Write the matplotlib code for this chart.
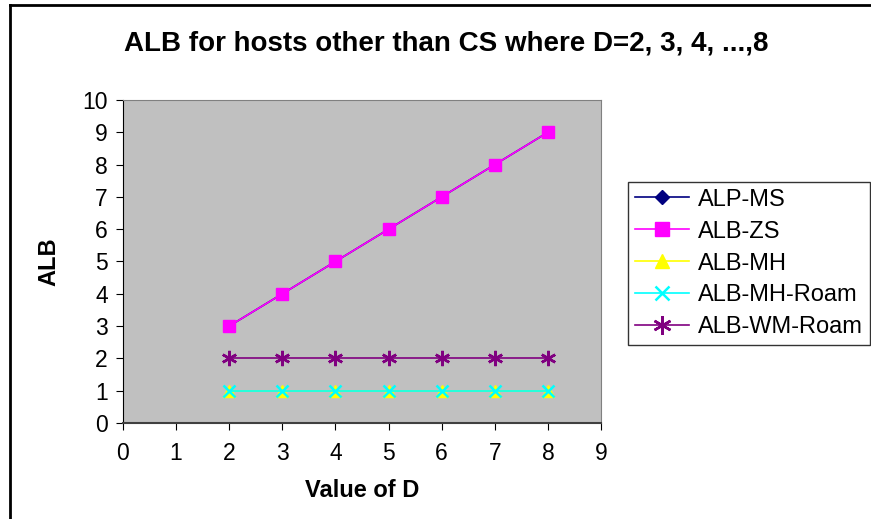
"""
ALB for hosts other than CS, plotted against D.
"""

import matplotlib
matplotlib.use("Agg")
import matplotlib.pyplot as plot
from matplotlib.lines import Line2D

d_values = [2, 3, 4, 5, 6, 7, 8]
alp_ms = [3, 4, 5, 6, 7, 8, 9]
alb_zs = [3, 4, 5, 6, 7, 8, 9]
alb_mh = [1, 1, 1, 1, 1, 1, 1]
alb_mh_roam = [1, 1, 1, 1, 1, 1, 1]
alb_wm_roam = [2, 2, 2, 2, 2, 2, 2]

plot.rcParams["font.family"] = ["Liberation Sans", "DejaVu Sans"]

figure = plot.figure(figsize=(8.71, 5.19), dpi=100)
axes = figure.add_axes([0.1412, 0.185, 0.5488, 0.6223])
axes.set_facecolor("#c0c0c0")

axes.plot(d_values, alp_ms, color="#000080", marker="D", markersize=6, linewidth=1.2, label="ALP-MS")
axes.plot(d_values, alb_zs, color="#ff00ff", marker="s", markersize=8, linewidth=1.2, label="ALB-ZS")
axes.plot(d_values, alb_mh, color="#ffff00", marker="^", markersize=8, linewidth=1.2, label="ALB-MH")
axes.plot(d_values, alb_mh_roam, color="#00ffff", marker="x", markersize=8,
          markeredgewidth=1.8, linewidth=1.2, label="ALB-MH-Roam")
axes.plot(d_values, alb_wm_roam, color="#800080", marker=(6, 2, 0), markersize=11,
          markeredgewidth=1.8, linewidth=1.2, label="ALB-WM-Roam")

axes.set_xlim(0, 9)
axes.set_ylim(0, 10)
axes.set_xticks(range(0, 10))
axes.set_yticks(range(0, 11))
axes.tick_params(direction="out", length=5, labelsize=16.5, pad=6)
axes.tick_params(axis="x", pad=9)

axes.spines["left"].set_color("black")
axes.spines["bottom"].set_color("#404040")
axes.spines["bottom"].set_linewidth(1.5)
axes.spines["top"].set_color("#808080")
axes.spines["right"].set_color("#808080")

axes.set_xlabel("Value of D", fontsize=17, fontweight="bold", labelpad=10)
axes.set_ylabel("ALB", fontsize=17, fontweight="bold", labelpad=16)
figure.text(0.512, 0.917, "ALB for hosts other than CS where D=2, 3, 4, ...,8",
            ha="center", va="center", fontsize=20, fontweight="bold")

legend = axes.legend(loc="upper left", bbox_to_anchor=(0.721, 0.65), bbox_transform=figure.transFigure,
                     fontsize=17, frameon=True, fancybox=False, edgecolor="black",
                     handlelength=2.3, handletextpad=0.35, borderpad=0.3, labelspacing=0.42,
                     borderaxespad=0, markerscale=1.2)
legend.get_frame().set_linewidth(1.0)

# chart area border (left and top edges)
figure.add_artist(Line2D([0.0115, 0.0115], [0, 0.99], color="black", linewidth=2, transform=figure.transFigure))
figure.add_artist(Line2D([0.0115, 1.0], [0.99, 0.99], color="black", linewidth=2, transform=figure.transFigure))

figure.savefig("out.png", dpi=100)
plot.close()
